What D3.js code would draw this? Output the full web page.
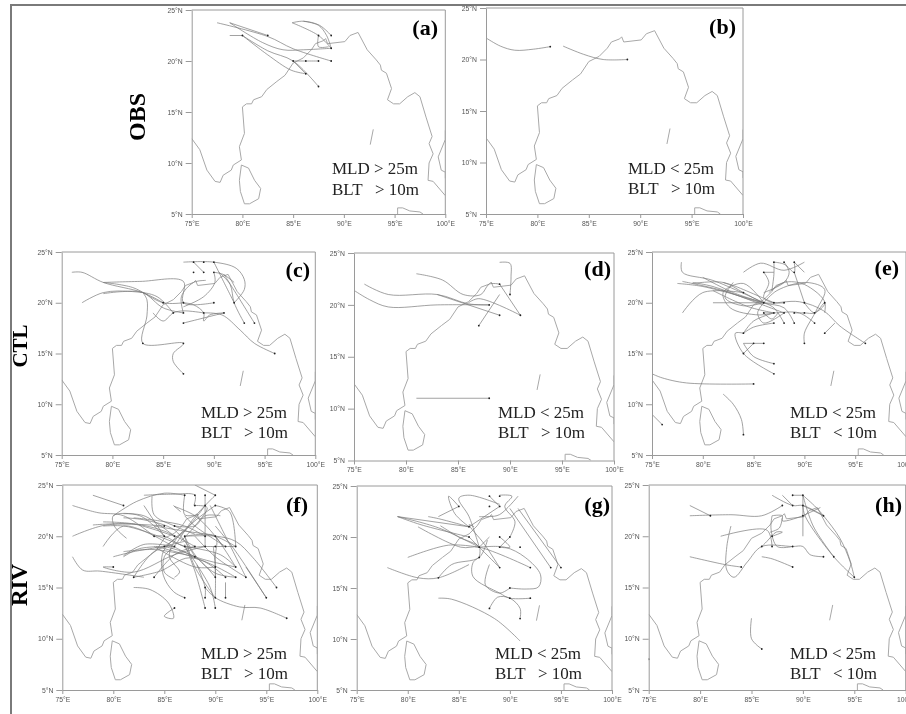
<!DOCTYPE html>
<html>
<head>
<meta charset="utf-8">
<script src="https://cdn.jsdelivr.net/npm/d3@7"></script>
<style>
    html, body { margin: 0; padding: 0; background: #fff; overflow: hidden; }
    svg { display: block; filter: blur(0.5px); }
</style>
</head>
<body>
<svg id="chart" width="906" height="714"></svg>
<script>
// Coastlines, lon/lat
const coastMain = [[75,12.4],[75.8,11.3],[76.5,9.3],[77.3,8.2],[77.8,8.1],[78.1,8.8],[78.9,9.3],[79.1,9.8],[79.9,10.3],[79.7,11.6],[80.2,12.9],[80,15.5],[80.4,15.8],[80.9,15.8],[81.1,16.2],[81.9,16.5],[82.4,17.2],[83.4,18],[84.2,18.6],[85,19.8],[86,20.3],[86.8,21.1],[87.2,21.7],[88,22],[88.2,22.2],[88.4,21.7],[90.1,21.9],[90.6,22.5],[91.4,22.8],[92.3,21.1],[93.2,20.1],[93.6,19.6],[93.7,19.1],[94.2,18.8],[94.7,17.3],[94.3,16.2],[94.9,15.8],[95.5,15.8],[96.3,16.5],[97,16.9],[97.5,16.5],[98.1,14.5],[98.7,12.6],[98.4,11.9],[98.8,10.9],[98.4,10],[98.3,8.3],[98.8,8.2],[100,6.8]];
const coastGulf = [[100,13.2],[100,12.3],[99.3,10.6],[99.6,9.3],[100,9.1],[100,8.5]];
const coastLanka = [[79.9,9.8],[80.6,9.5],[81.2,8.3],[81.8,7.5],[81.6,6.5],[80.7,6],[80.2,6],[79.8,7.2],[79.7,8.3],[79.9,9.8]];
const coastSumatra = [[95.3,5],[95.3,5.6],[95.8,5.6],[96.5,5.3],[97.5,5.2],[97.8,5]];
const coastAndaman = [[92.9,13.3],[92.6,11.8]];
const coasts = [coastMain, coastGulf, coastLanka, coastSumatra, coastAndaman];

const lonTicks = [75, 80, 85, 90, 95, 100];
const latTicks = [5, 10, 15, 20, 25];

// Genesis dots
const dotsA = [[88.75,22.5],[87.5,22.5],[88.75,21.25],[88.75,20],[87.5,20],[86.25,20],[85,20],[86.25,18.75],[87.5,17.5],[82.5,22.5],[80,22.5]];
const dotsB = [[81.25,21.25],[88.75,20]];
const dotsC = [[88,24],[89,24],[90,24],[88,23],[89,23],[90,23],[85,20],[87,20],[90,20],[92,20],[86,19],[87,19],[89,19],[91,19],[87,18],[93,18],[94,18],[83,16],[87,16],[96,15],[87,13]];
const dotsD = [[88,20],[89,19],[91,19],[87,18],[89,22],[90,21],[88,11]];
const dotsE = [[87,24],[88,24],[89,24],[89,23],[86,23],[84,21],[86,20],[87,20],[88,20],[90,20],[92,20],[86,19],[87,19],[88,19],[89,19],[90,19],[91,19],[87,18],[88,18],[89,18],[91,18],[84,17],[92,17],[85,16],[86,16],[90,16],[96,16],[84,15],[87,14],[87,13],[85,12],[84,7],[76,8]];
const dotsF = [[88,24],[87,24],[89,24],[90,24],[88,23],[89,23],[90,23],[81,23],[85,21],[86,21],[84,20],[85,20],[86,20],[87,20],[89,20],[90,20],[85,19],[86,19],[87,19],[88,19],[89,19],[90,19],[91,19],[92,19],[88,18],[90,17],[92,17],[80,17],[82,16],[84,16],[90,16],[91,16],[92,16],[93,16],[96,15],[89,15],[87,14],[89,14],[90,14],[91,14],[95,14],[86,13],[89,13],[90,13],[97,12]];
const dotsG = [[88,24],[89,24],[85,23],[88,23],[89,23],[86,21],[86,20],[89,20],[90,20],[87,19],[89,19],[91,19],[87,18],[89,17],[92,17],[94,17],[95,17],[83,16],[90,15],[90,14],[92,14],[88,13],[91,12]];
const dotsH = [[89,24],[90,24],[88,23],[89,23],[90,23],[90,22],[92,22],[81,22],[87,20],[86,19],[87,19],[89,19],[92,18],[93,18],[84,17],[89,17],[95,16],[86,9],[75,8]];

// Cyclone tracks, each one a list of lon/lat points
const tracksA = [
    [[88.75,20],[85,21.2],[82.5,22.4],[77.5,23.75]],
    [[88.75,21.25],[86,21.1],[84,21.1],[82,21.8],[78.75,23.75]],
    [[82.5,22.5],[78.75,23.75]],
    [[80,22.5],[78.75,22.5]],
    [[86.25,18.75],[84.8,19.1],[82.5,20.6],[80,22.5]],
    [[87.5,17.5],[85,20],[82.5,21],[80,22.5]],
    [[85,20],[86.25,20],[87.5,20]],
    [[85,20],[86.25,18.75]],
    [[88.75,21.25],[87.5,22.5],[84.9,23.75]],
    [[88.75,22.5],[87.6,23.5],[86,23.9],[84.9,23.75]],
    [[88.75,21.25],[88.3,22.5],[87.5,23.5],[86,23.9]],
    [[87.5,22.5],[87.5,21.4],[88.5,21.4]]
];
const tracksB = [
    [[81.25,21.25],[79.6,21],[77.8,20.9],[76.4,21.3],[75,22.1]],
    [[88.75,20],[86.4,20],[84.5,20.5],[82.5,21.3]]
];
const tracksC = [
    [[87,13],[86,14.2],[86,15],[87,16],[83,16],[83.4,18.7],[83.4,20.3],[83,21]],
    [[96,15],[94,16],[92.6,17.3],[90.8,18.8],[89,19]],
    [[94,18],[92.2,20.9],[91,22.8]],
    [[93,18],[92,20],[91.6,21.8],[90.5,23]],
    [[92,20],[93,21.3],[93,22.3],[92.2,23.4],[90,24],[87,24]],
    [[90,23],[90.1,22],[89,20.6],[87,19.6]],
    [[88,24],[89,23]],
    [[90,24],[90.8,22.4],[92,20]],
    [[85,20],[83,21],[79.1,22],[77,23],[76,23]],
    [[87,20],[85,20],[82,21.5],[79.1,22]],
    [[90,20],[87,20],[87,22.1],[82.7,22.1],[79.1,22]],
    [[86,19],[84.4,20.6],[82,21.1],[79.1,21],[77,20]],
    [[87,19],[85,19.5],[83,21],[81,21.1],[79.1,20.9]],
    [[91,19],[89.6,18.8],[89,18.2],[89,19],[88,19.8],[87,20]],
    [[87,18],[89,18.5],[91,19]],
    [[89,19],[87,19.2],[86,19],[85,18.2],[84,19]],
    [[87,19],[86.8,20.6],[88,22],[89.2,22.2]],
    [[90,23],[90.9,22.8],[92,22]]
];
const tracksD = [
    [[88,11],[81,11]],
    [[87,18],[89,21]],
    [[89,19],[83,21]],
    [[91,19],[87,20.6],[86,20.2]],
    [[89,22],[88,22],[87.2,21],[85.5,21],[83.5,22.4],[81,23]],
    [[88,20],[83,20],[78.3,19.8],[76.5,20.5],[75,21.4]],
    [[88,20],[86,20.1],[83,21],[78.3,21],[76,22]],
    [[89,22],[91,19]],
    [[90,21],[90.1,22.7],[90,24],[89,24.1]]
];
const tracksE = [
    [[76,8],[75,9]],
    [[84,7],[83.8,8.5],[83,10],[82,11]],
    [[85,12],[78.4,12.1],[76,12.6],[75,13]],
    [[87,13],[84,15],[83.2,17],[84,17]],
    [[87,14],[85,14.7],[84,16]],
    [[85,16],[84,15]],
    [[86,16],[84,16]],
    [[92,17],[93,18]],
    [[90,16],[90,17],[91.2,19.3],[92,21.3],[90.2,22],[87.3,21.2],[86,20]],
    [[96,16],[93.5,17.7],[91.9,19.2],[89.5,20.1],[86,20],[81.6,21.3],[78,22.1]],
    [[86,20],[81,22.2],[78,23],[77.9,24]],
    [[86,20],[80,21.6],[77.5,21.9]],
    [[84,21],[80,21],[78,19]],
    [[86,20],[81,20]],
    [[87,19],[85.5,18.8],[82.7,19.5],[82,21],[84,21.9],[86,20]],
    [[87,19],[85,18.2],[84,17]],
    [[89,18],[88,19.5],[86,20],[84,21],[82,22],[79,21.9]],
    [[88,18],[87,19.5],[86,20]],
    [[91,18],[89.5,19],[87,19],[86,19]],
    [[89,23],[90,20]],
    [[90,20],[91,19],[92,20],[92,19]],
    [[86,23],[86.5,22],[86,20.5],[87,20],[88,20]],
    [[87,24],[87,22.8],[86.8,21.2]],
    [[88,24],[88.5,23],[88,22],[86,21]],
    [[89,24],[89,23],[88,23.8],[87,24]],
    [[84,23],[85.7,23.9],[88,23.2],[90,24]],
    [[89,24],[90,23]],
    [[86,23],[87,23]],
    [[87,18],[85,17.6],[84,17]],
    [[89,19],[90,19],[91,19],[92,20],[90,21.8],[88,22],[86.5,21]],
    [[88,19],[86,18],[85.4,19],[86,20]],
    [[86,19],[86.8,18.4],[87.4,19]],
    [[88,19],[84,20.5],[81,21.6],[79,22]],
    [[87,20],[83,21.7],[82,22]],
    [[86,20],[83,21],[80,22.5]],
    [[87,19],[84.5,19.6],[81,21.2]],
    [[86,20],[84,19.7],[82.2,20.5],[83,22]]
];
const tracksF = [
    [[81,23],[78,24]],
    [[97,12],[94.4,13],[92.4,13.1],[90,14],[89,15]],
    [[86,13],[85,12.2],[85.9,12],[85.4,13.5],[83.6,14.8],[82,15]],
    [[87,14],[85.9,14.6],[84.9,16.2],[84.9,18.5],[86.9,20.5]],
    [[96,15],[93.7,17.9],[92,19.5],[90.1,20],[87,20]],
    [[95,14],[91.8,18.8],[90,21]],
    [[95,14],[93,17]],
    [[93,16],[91,20],[89.5,23]],
    [[89,13],[88,16.6],[87,19.2]],
    [[90,13],[89.5,15],[87,19]],
    [[90,14],[90,17],[89.8,19]],
    [[89,14],[89,15],[88.2,17.2]],
    [[91,14],[91,15.5]],
    [[80,17],[79,17],[82,16.5],[86,18.2],[89,19]],
    [[82,16],[84,18.5],[87,19.5]],
    [[84,16],[86,18.2],[88,19]],
    [[76,18],[77,16.7],[78.7,16.6],[83,16]],
    [[92,17],[90.5,18.2],[87,19]],
    [[90,16],[88,18],[85,19]],
    [[92,16],[87.5,17.9],[84.6,16.6],[82,16]],
    [[93,16],[90,18],[88,20]],
    [[91,16],[89,17.5],[84.2,19]],
    [[92,19],[90,20],[87,20.5],[84,21]],
    [[85,19],[82,18.5],[80,18]],
    [[86,19],[82.6,18.8],[81,18]],
    [[86,19],[83,19.2],[81,18.1]],
    [[85,19.5],[81,21],[79,19]],
    [[85,21],[79.3,21.1],[76,20]],
    [[84,20],[81,22],[78.5,22.3],[76,23]],
    [[85,20],[82.6,22],[80,22],[80.1,21],[81.3,19.8]],
    [[83,23],[85,20]],
    [[83,24],[85.8,24.1],[88,24],[87.9,23]],
    [[80,22],[82.3,23.4],[85,24.2],[87,24]],
    [[88,25],[90,24]],
    [[89,23],[87,20.5],[85,19]],
    [[90,24],[88,21.9],[86,19]],
    [[87,24],[87,22.1],[88.3,22.1]],
    [[88,23],[89.2,22.8],[88,21],[86.6,19.5]],
    [[90,23],[91.4,22.4],[92,19]],
    [[89,24],[89,20.5],[89,19]],
    [[90,20],[90.8,19]],
    [[83.8,23.9],[84,22.1],[86,21],[88,20.2]],
    [[85.9,23],[86.6,22.4]],
    [[90,23],[88,21.5],[86,19.5],[85.5,18],[86.5,16.5],[86,16]],
    [[88,18],[86,20.6],[83,21.6],[81,21.8]],
    [[92,17],[90,20],[88,22],[86,22.9]],
    [[92,16],[90,16.4],[88,18.2],[87,20]],
    [[87,20],[90,20],[90,18],[90,16]],
    [[86,21],[88,21],[89,22],[90.5,22]],
    [[86,20],[82,21.2],[79,21.4]],
    [[84,20],[85,20],[87,19],[89,19],[90,19],[92,19]],
    [[87,19],[83,20.5],[81,21],[79,21]],
    [[88,19],[85,20.5],[82,21.2],[78,21.1]],
    [[86,20],[83,22],[81,22.2]],
    [[91,19],[88,21],[87,22]],
    [[89,20],[87,21],[84.5,21.5],[82,21.8]],
    [[88,18],[84,18.7],[81,18.5]],
    [[86,19],[85,18],[85,16.5],[86,15.8]],
    [[90,14],[88,17],[87,20]],
    [[92,17],[88,18],[85,19.5]],
    [[90,17],[88,17],[84,19]]
];
const tracksG = [
    [[91,12],[91,13],[90,14],[88.8,14.1],[88,13]],
    [[92,14],[90,14],[89,14.5],[86.4,16.1],[86.4,17.5],[87,18]],
    [[90,15],[91.6,14.9],[92.8,15.1],[93,16.3],[91.5,18],[89.5,19],[87,19]],
    [[90,15],[89,14.5],[87.6,15.3],[88,17.3]],
    [[89,17],[87,19],[86,20]],
    [[92,17],[87,19],[85.2,19],[81,21]],
    [[94,17],[90,22.8]],
    [[95,17],[90.8,22.8]],
    [[83,16],[84.3,17.3],[87,18],[87.8,19.7]],
    [[78,17],[81,16],[83,16],[86,17.3]],
    [[83,14],[84.3,13.9],[88.5,12],[91,9.8]],
    [[80,18],[84,19.2],[87,19]],
    [[85,23],[83,22]],
    [[85,23],[84,24],[84.6,22.3],[86,21]],
    [[86,21],[79,22]],
    [[86,21],[83,21.8],[82,22]],
    [[79,22],[81.3,21.2],[86,20]],
    [[79,22],[83,20.9],[87,19]],
    [[89,23],[86,21]],
    [[90,20],[90.5,21.5],[89.5,23],[90.2,24],[89,24.1]],
    [[87,19],[86,22],[85,23.8],[86,24.1],[89,23.2]],
    [[90.8,24],[89,22.2],[88,22],[87,22]],
    [[88,24],[89,23]],
    [[89,19],[90,19],[89,20]],
    [[89,19],[90,20]],
    [[87,18],[87,19],[85,20],[83.2,21.1]],
    [[87,19],[88,20]],
    [[89,17],[87.5,19.3],[86,21.2],[86.5,21]]
];
const tracksH = [
    [[75,8],[75,8.1]],
    [[86,9],[85,10],[85,12]],
    [[89,17],[87,17.8],[86,18]],
    [[84,17],[82.6,17.2],[79,18]],
    [[92,18],[90.7,18.2],[90,19],[89,19],[86,19],[84.6,17.5],[83.3,16],[82.6,16.7],[82.6,19],[83,21]],
    [[87,19],[86.5,20.6],[82,20]],
    [[89,19],[87.5,19],[86.9,20.7],[87,22]],
    [[87,20],[88,20.4],[87.4,20.4],[86.5,19.5],[86,19]],
    [[95,16],[93,18],[90.2,22],[90,23]],
    [[95,16],[94.6,17.5],[93.6,19.8],[92,22],[91.3,22.8],[90,24]],
    [[93,18],[91,21],[90,24]],
    [[92,22],[90,23],[89,23],[87,24]],
    [[90,24],[90,20]],
    [[89,24],[90,24]],
    [[90,22],[88,21.5],[88,22],[87,22]],
    [[88,21.8],[87.7,20.8],[86.8,20.4]],
    [[90,22],[91.7,22.8]],
    [[90,23],[92,22]],
    [[88,23],[86,22],[83,22.1],[79,22]],
    [[79,23],[81,22]],
    [[89,23],[88,24]]
];

// Panel boxes on the page
const panels = [
    { id: 'a', x0: 191.7, x1: 445.3, y0: 10, y1: 214, tracks: tracksA, dots: dotsA, note: ['MLD > 25m', 'BLT   > 10m'], nx: 332, ny: [174, 195], lx: 438, ly: 35 },
    { id: 'b', x0: 486, x1: 743, y0: 8, y1: 214, tracks: tracksB, dots: dotsB, note: ['MLD < 25m', 'BLT   > 10m'], nx: 628, ny: [174, 194], lx: 736, ly: 34 },
    { id: 'c', x0: 61.7, x1: 315.3, y0: 252, y1: 455, tracks: tracksC, dots: dotsC, note: ['MLD > 25m', 'BLT   > 10m'], nx: 201, ny: [418, 438], lx: 310, ly: 277 },
    { id: 'd', x0: 354, x1: 614, y0: 253, y1: 460.5, tracks: tracksD, dots: dotsD, note: ['MLD < 25m', 'BLT   > 10m'], nx: 498, ny: [418, 438], lx: 611, ly: 276 },
    { id: 'e', x0: 652, x1: 906, y0: 252, y1: 455, tracks: tracksE, dots: dotsE, note: ['MLD < 25m', 'BLT   < 10m'], nx: 790, ny: [418, 438], lx: 899, ly: 275 },
    { id: 'f', x0: 62.3, x1: 317.3, y0: 485, y1: 690, tracks: tracksF, dots: dotsF, note: ['MLD > 25m', 'BLT   > 10m'], nx: 201, ny: [659, 679], lx: 308, ly: 512 },
    { id: 'g', x0: 356.7, x1: 612, y0: 486, y1: 690, tracks: tracksG, dots: dotsG, note: ['MLD < 25m', 'BLT   > 10m'], nx: 495, ny: [659, 679], lx: 610, ly: 512 },
    { id: 'h', x0: 648.7, x1: 905.7, y0: 485, y1: 690, tracks: tracksH, dots: dotsH, note: ['MLD < 25m', 'BLT   < 10m'], nx: 790, ny: [659, 679], lx: 902, ly: 512 }
];

const rowLabels = [
    { text: 'OBS', x: 145, y: 117, size: 24 },
    { text: 'CTL', x: 26.5, y: 346, size: 21 },
    { text: 'RIV', x: 27, y: 585, size: 23 }
];

const colors = { frame: '#7a7a7a', box: '#9a9a9a', coast: '#a8a8a8', track: '#7a7a7a', dot: '#222', tick: '#555' };
const serif = '"Liberation Serif", serif';

const svg = d3.select('#chart');

// Outer frame, runs off the right and bottom of the page
svg.append('rect')
    .attr('x', 11).attr('y', 5)
    .attr('width', 920).attr('height', 740)
    .attr('fill', 'none')
    .attr('stroke', colors.frame)
    .attr('stroke-width', 2);

panels.forEach(drawPanel);

rowLabels.forEach(d => {
    svg.append('text')
        .attr('transform', `translate(${d.x},${d.y}) rotate(-90)`)
        .attr('text-anchor', 'middle')
        .attr('font-family', serif)
        .attr('font-weight', 'bold')
        .attr('font-size', d.size)
        .attr('fill', '#000')
        .text(d.text);
});

function drawPanel(p) {
    const x = d3.scaleLinear().domain([75, 100]).range([p.x0, p.x1]);
    const y = d3.scaleLinear().domain([5, 25]).range([p.y1, p.y0]);
    const g = svg.append('g').attr('class', 'panel-' + p.id);

    const clipId = 'clip-' + p.id;
    g.append('clipPath').attr('id', clipId)
        .append('rect')
        .attr('x', p.x0).attr('y', p.y0)
        .attr('width', p.x1 - p.x0).attr('height', p.y1 - p.y0);

    const coastLine = d3.line().x(d => x(d[0])).y(d => y(d[1])).curve(d3.curveLinear);
    const trackLine = d3.line().x(d => x(d[0])).y(d => y(d[1])).curve(d3.curveCatmullRom.alpha(0.5));

    const map = g.append('g').attr('clip-path', `url(#${clipId})`);

    map.selectAll('path.coast')
        .data(coasts)
        .enter()
        .append('path')
        .attr('class', 'coast')
        .attr('d', coastLine)
        .attr('fill', 'none')
        .attr('stroke', colors.coast)
        .attr('stroke-width', 1);

    map.selectAll('path.track')
        .data(p.tracks)
        .enter()
        .append('path')
        .attr('class', 'track')
        .attr('d', trackLine)
        .attr('fill', 'none')
        .attr('stroke', colors.track)
        .attr('stroke-width', 0.7);

    map.selectAll('circle')
        .data(p.dots)
        .enter()
        .append('circle')
        .attr('cx', d => x(d[0]))
        .attr('cy', d => y(d[1]))
        .attr('r', 0.9)
        .attr('fill', colors.dot);

    // Axes
    const xAxis = d3.axisBottom(x).tickValues(lonTicks).tickSize(4).tickSizeOuter(0).tickFormat(d => d + '°E');
    const yAxis = d3.axisLeft(y).tickValues(latTicks).tickSize(6).tickSizeOuter(0).tickFormat(d => d + '°N');

    const gx = g.append('g').attr('transform', `translate(0,${p.y1})`).call(xAxis);
    const gy = g.append('g').attr('transform', `translate(${p.x0},0)`).call(yAxis);

    [gx, gy].forEach(a => {
        a.select('.domain').attr('stroke', colors.box);
        a.selectAll('line').attr('stroke', colors.box);
        a.selectAll('text')
            .attr('font-family', '"Liberation Sans", Arial, sans-serif')
            .attr('font-size', 6.8)
            .attr('fill', colors.tick);
    });

    // Top and right of the box
    g.append('path')
        .attr('d', `M${p.x0},${p.y0}H${p.x1}V${p.y1}`)
        .attr('fill', 'none')
        .attr('stroke', colors.box);

    // Text
    g.append('text')
        .attr('x', p.lx).attr('y', p.ly)
        .attr('text-anchor', 'end')
        .attr('font-family', serif)
        .attr('font-weight', 'bold')
        .attr('font-size', 22)
        .attr('fill', '#000')
        .text(`(${p.id})`);

    p.note.forEach((line, i) => {
        g.append('text')
            .attr('x', p.nx).attr('y', p.ny[i])
            .style('white-space', 'pre')
            .attr('font-family', serif)
            .attr('font-size', 17)
            .attr('fill', '#222')
            .text(line);
    });
}
</script>
</body>
</html>
